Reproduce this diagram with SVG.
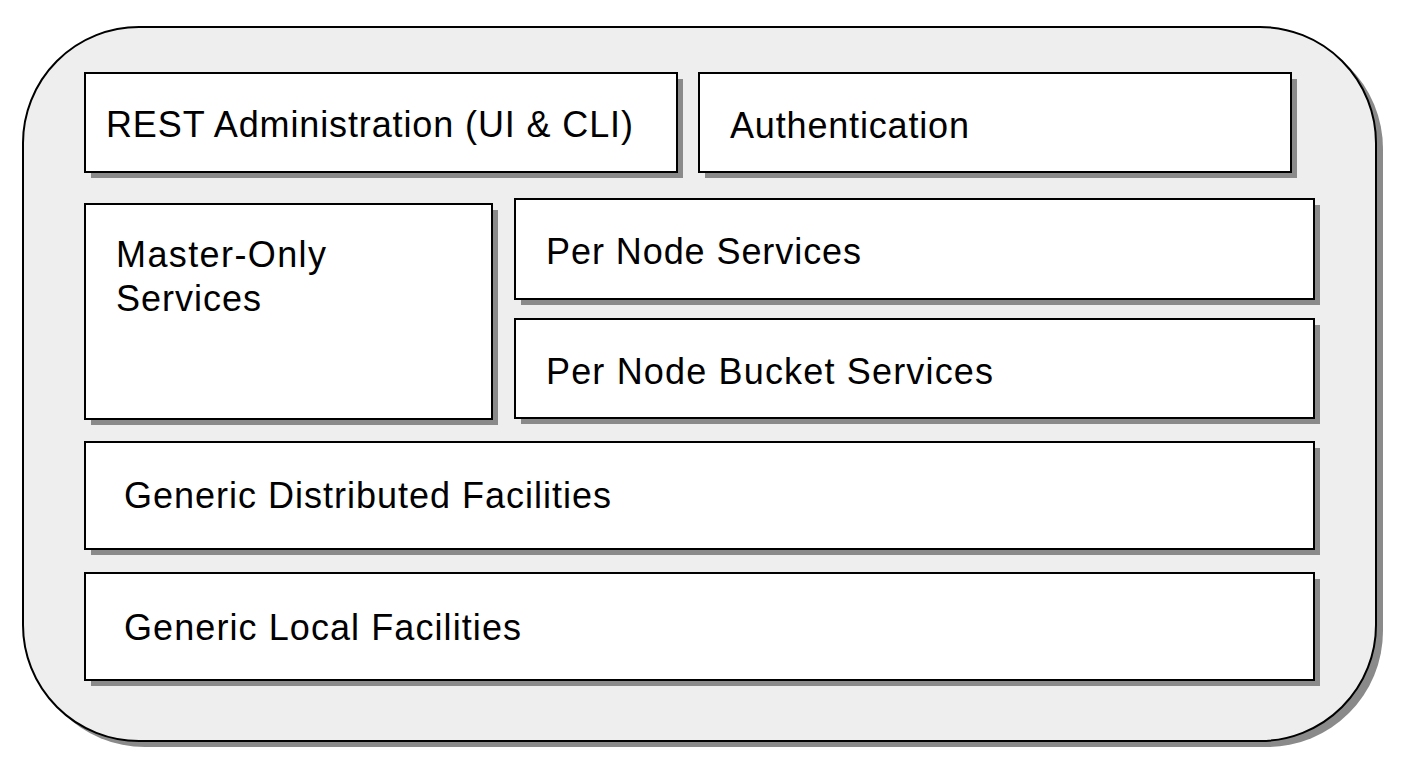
<svg xmlns="http://www.w3.org/2000/svg" width="1404" height="774" viewBox="0 0 1404 774">
<defs>
<style>
.sh{fill:#8a8a8a}
.bx{fill:#ffffff;stroke:#000;stroke-width:2}
.t{font-family:"Liberation Sans",Arial,sans-serif;font-size:36px;fill:#000}
</style>
</defs>
<rect width="1404" height="774" fill="#ffffff"/>
<g id="container">
<rect x="29" y="33" width="1354" height="714" rx="116" ry="116" class="sh"/>
<rect x="23" y="27" width="1353" height="714" rx="116" ry="116" fill="#eeeeee" stroke="#000" stroke-width="2"/>
</g>
<g id="rest">
<rect x="91" y="79" width="592" height="99" class="sh"/>
<rect x="85" y="73" width="592" height="99" class="bx"/>
<text x="106" y="137" class="t" textLength="527" lengthAdjust="spacing">REST Administration (UI &amp; CLI)</text>
</g>
<g id="auth">
<rect x="705" y="79" width="592" height="99" class="sh"/>
<rect x="699" y="73" width="592" height="99" class="bx"/>
<text x="730" y="138" class="t" textLength="239" lengthAdjust="spacing">Authentication</text>
</g>
<g id="master">
<rect x="91" y="210" width="407" height="215" class="sh"/>
<rect x="85" y="204" width="407" height="215" class="bx"/>
<text x="116" y="267" class="t" textLength="210" lengthAdjust="spacing">Master-Only</text>
<text x="116" y="311" class="t" textLength="145" lengthAdjust="spacing">Services</text>
</g>
<g id="pernode">
<rect x="521" y="205" width="799" height="100" class="sh"/>
<rect x="515" y="199" width="799" height="100" class="bx"/>
<text x="546" y="264" class="t" textLength="315" lengthAdjust="spacing">Per Node Services</text>
</g>
<g id="pernodebucket">
<rect x="521" y="325" width="799" height="99" class="sh"/>
<rect x="515" y="319" width="799" height="99" class="bx"/>
<text x="546" y="384" class="t" textLength="447" lengthAdjust="spacing">Per Node Bucket Services</text>
</g>
<g id="distributed">
<rect x="91" y="448" width="1229" height="107" class="sh"/>
<rect x="85" y="442" width="1229" height="107" class="bx"/>
<text x="124" y="508" class="t" textLength="487" lengthAdjust="spacing">Generic Distributed Facilities</text>
</g>
<g id="local">
<rect x="91" y="579" width="1229" height="107" class="sh"/>
<rect x="85" y="573" width="1229" height="107" class="bx"/>
<text x="124" y="640" class="t" textLength="397" lengthAdjust="spacing">Generic Local Facilities</text>
</g>
<g id="connectors"/>
</svg>
